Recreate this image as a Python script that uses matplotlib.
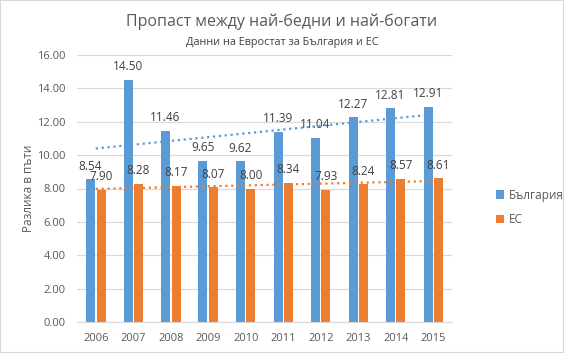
import numpy as np
import matplotlib.pyplot as plt

years = ['2006', '2007', '2008', '2009', '2010', '2011', '2012', '2013', '2014', '2015']
bulgaria = [8.54, 14.50, 11.46, 9.65, 9.62, 11.39, 11.04, 12.27, 12.81, 12.91]
eu = [7.90, 8.28, 8.17, 8.07, 8.00, 8.34, 7.93, 8.24, 8.57, 8.61]

blue = '#5B9BD5'
orange = '#ED7D31'
txt = '#595959'

plt.rcParams['font.family'] = ['Open Sans', 'DejaVu Sans']

fig = plt.figure(figsize=(5.64, 3.53), dpi=100)
ax = fig.add_axes([77 / 564, 1 - 322 / 353, 375 / 564, 267 / 353])

x = np.arange(len(years))
w = 0.24
gap = 0.04
ax.bar(x - w / 2 - gap / 2, bulgaria, w, color=blue, label='България', zorder=2)
ax.bar(x + w / 2 + gap / 2, eu, w, color=orange, label='ЕС', zorder=2)

for xi, v in zip(x, bulgaria):
    ax.text(xi - w / 2 - gap / 2, v + 0.4, f'{v:.2f}', ha='center', va='bottom', fontsize=8.5, color='#404040')
for xi, v in zip(x, eu):
    ax.text(xi + w / 2 + gap / 2, v + 0.4, f'{v:.2f}', ha='center', va='bottom', fontsize=8.5, color='#404040')

# linear trend lines
for vals, c in ((bulgaria, blue), (eu, orange)):
    k, b = np.polyfit(x, vals, 1)
    ax.plot(x, k * x + b, ls=':', lw=1.6, color=c, zorder=3)

ax.set_xlim(-0.5, len(years) - 0.5)
ax.set_ylim(0, 16)
ax.set_yticks(np.arange(0, 17, 2))
ax.set_yticklabels([f'{t:.2f}' for t in np.arange(0, 17, 2)])
ax.set_xticks(x)
ax.set_xticklabels(years)
ax.tick_params(length=0, labelsize=8, colors=txt, pad=8)
ax.grid(axis='y', color='#D9D9D9', lw=0.8, zorder=0)
for s in ['top', 'right', 'left']:
    ax.spines[s].set_visible(False)
ax.spines['bottom'].set_color('#D9D9D9')
ax.set_ylabel('Разлика в пъти', fontsize=8.5, color=txt, labelpad=2)

fig.text(0.5, 1 - 22 / 353, 'Пропаст между най-бедни и най-богати', ha='center', va='center', fontsize=11.5, color=txt)
fig.text(0.5, 1 - 42 / 353, 'Данни на Евростат за България и ЕС', ha='center', va='center', fontsize=7.8, color='#404040')

fig.legend(loc='upper left', bbox_to_anchor=(485 / 564, 1 - 178 / 353), frameon=False,
           fontsize=8.5, labelcolor=txt, handlelength=0.7, handleheight=0.7, handletextpad=0.4, labelspacing=1.0)

fig.patches.append(plt.Rectangle((0, 0), 1, 1, transform=fig.transFigure, fill=False, ec='#D9D9D9', lw=1.5))

fig.savefig('out.png', dpi=100)
